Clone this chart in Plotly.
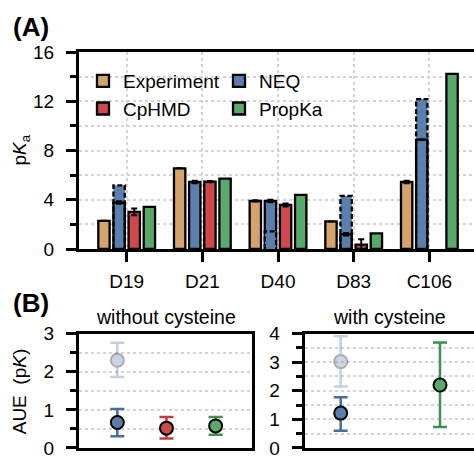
import plotly.graph_objects as go

# ---------------- data ----------------
residues = ["D19", "D21", "D40", "D83", "C106"]
exp_pka = [2.29, 6.55, 3.90, 2.24, 5.44]
exp_err = [0.0, 0.0, 0.05, 0.0, 0.10]
neq_pka = [3.77, 5.44, 3.90, 1.19, 8.89]
neq_err = [0.10, 0.10, 0.10, 0.10, 0.0]
neq_alt_pka = [5.17, None, 1.43, 4.31, 12.18]
cphmd_pka = [3.02, 5.47, 3.58, 0.35, None]
cphmd_err = [0.27, 0.05, 0.12, 0.45, 0.0]
propka_pka = [3.42, 5.71, 4.39, 1.27, 14.22]

methods_b = ["NEQ", "CpHMD", "PropKa"]
# without cysteine
wo_val = [0.67, 0.52, 0.58]
wo_lo = [0.31, 0.25, 0.35]
wo_hi = [1.02, 0.81, 0.81]
wo_neq_alt = 2.30
wo_neq_alt_lo = 1.86
wo_neq_alt_hi = 2.76
# with cysteine
w_methods = ["NEQ", "PropKa"]
w_val = [1.22, 2.20]
w_lo = [0.60, 0.73]
w_hi = [1.77, 3.69]
w_neq_alt = 3.02
w_neq_alt_lo = 2.15
w_neq_alt_hi = 3.91

y_ticks_a = [0, 4, 8, 12, 16]

# ---------------- style ----------------
FONT = "Liberation Sans, Arial, Helvetica, sans-serif"
FS = 19
C_EXP = "#D4A46C"
C_NEQ = "#5A7FAD"
C_CPH = "#D0474C"
C_PKA = "#58A96B"
E_NEQ = "#4A6C9A"
E_CPH = "#C83A3F"
E_PKA = "#3E8E50"
GRID = "#D4D4D4"

W, H = 474, 459
ML, MR, MT, MB = 79, 0, 52, 9
PW, PH = W - ML - MR, H - MT - MB


def px_x(p):
    return (p - ML) / PW


def px_y(p):
    return (H - MB - p) / PH


BAR_W = 0.15
BAR_LW = 2.3
OFFS = {"Experiment": -0.3, "NEQ": -0.1, "CpHMD": 0.1, "PropKa": 0.3}
idx = list(range(len(residues)))

fig = go.Figure()


def bar_trace(name, vals, errs, color, offset, legend, showlegend=True):
    xs = [i + offset for i in idx]
    kw = {}
    if errs is not None:
        kw["error_y"] = dict(type="data", array=errs, visible=True,
                             color="black", thickness=2, width=3)
    return go.Bar(x=xs, y=vals, width=BAR_W, name=name,
                  marker=dict(color=color, line=dict(color="black", width=BAR_LW)),
                  legend=legend, legendgroup=name, showlegend=showlegend,
                  xaxis="x", yaxis="y", **kw)


# NEQ alternative bars: fill behind when taller, in front when shorter
alt_back = [a if (a is not None and a > s) else None for a, s in zip(neq_alt_pka, neq_pka)]
alt_front = [a if (a is not None and a < s) else None for a, s in zip(neq_alt_pka, neq_pka)]

fig.add_trace(go.Bar(x=[i + OFFS["NEQ"] for i in idx], y=alt_back, width=BAR_W,
                     marker=dict(color=C_NEQ, line=dict(width=0)), showlegend=False,
                     hoverinfo="skip", xaxis="x", yaxis="y"))
fig.add_trace(bar_trace("Experiment", exp_pka, exp_err, C_EXP, OFFS["Experiment"], "legend"))
fig.add_trace(bar_trace("NEQ", neq_pka, neq_err, C_NEQ, OFFS["NEQ"], "legend2"))
fig.add_trace(bar_trace("CpHMD", cphmd_pka, cphmd_err, C_CPH, OFFS["CpHMD"], "legend"))
fig.add_trace(bar_trace("PropKa", propka_pka, None, C_PKA, OFFS["PropKa"], "legend2"))
fig.add_trace(go.Bar(x=[i + OFFS["NEQ"] for i in idx], y=alt_front, width=BAR_W,
                     marker=dict(color=C_NEQ, line=dict(width=0)), showlegend=False,
                     hoverinfo="skip", xaxis="x", yaxis="y"))

# dashed outlines of NEQ alternative bars
dx, dy = [], []
for i, a in zip(idx, neq_alt_pka):
    if a is None:
        continue
    x0 = i + OFFS["NEQ"] - BAR_W / 2
    x1 = i + OFFS["NEQ"] + BAR_W / 2
    dx += [x0, x0, x1, x1, None]
    dy += [0, a, a, 0, None]
fig.add_trace(go.Scatter(x=dx, y=dy, mode="lines", showlegend=False, hoverinfo="skip",
                         line=dict(color="black", width=BAR_LW, dash="5px,2.5px"),
                         xaxis="x", yaxis="y"))


# ---------------- panel B ----------------
def pos(m):
    return {"NEQ": 1, "CpHMD": 2, "PropKa": 3}[m]


COLS = {"NEQ": (C_NEQ, E_NEQ), "CpHMD": (C_CPH, E_CPH), "PropKa": (C_PKA, E_PKA)}


def point(xa, ya, m, v, lo, hi, opacity=1.0):
    fc, ec = COLS[m]
    return go.Scatter(x=[pos(m)], y=[v], mode="markers", showlegend=False,
                      opacity=opacity,
                      marker=dict(size=13, color=fc, line=dict(color="black", width=2)),
                      error_y=dict(type="data", symmetric=False, array=[hi - v],
                                   arrayminus=[v - lo], color=ec, thickness=2.5, width=7),
                      xaxis=xa, yaxis=ya)


fig.add_trace(point("x2", "y2", "NEQ", wo_neq_alt, wo_neq_alt_lo, wo_neq_alt_hi, 0.32))
for m, v, lo, hi in zip(methods_b, wo_val, wo_lo, wo_hi):
    fig.add_trace(point("x2", "y2", m, v, lo, hi))
fig.add_trace(point("x3", "y3", "NEQ", w_neq_alt, w_neq_alt_lo, w_neq_alt_hi, 0.32))
for m, v, lo, hi in zip(w_methods, w_val, w_lo, w_hi):
    fig.add_trace(point("x3", "y3", m, v, lo, hi))

# ---------------- axes ----------------
axis_common = dict(showline=True, linecolor="black", linewidth=3, zeroline=False,
                   tickfont=dict(family=FONT, size=FS, color="black"),
                   ticks="outside", tickcolor="black", tickwidth=3, ticklen=10)
grid_common = dict(showgrid=True, gridcolor=GRID, griddash="dot", gridwidth=1.5)

yA_top = px_y(52)
yA_bot = px_y(250)
yB_top = px_y(335)

fig.update_layout(
    xaxis=dict(domain=[0, 1], anchor="y", range=[-0.63, 4.59],
               tickmode="array", tickvals=idx, ticktext=residues,
               mirror=True, ticklabelstandoff=3, **grid_common, **axis_common),
    yaxis=dict(domain=[yA_bot, yA_top], anchor="x", range=[0, 16],
               tickmode="array", tickvals=y_ticks_a, **grid_common,
               minor=dict(dtick=2, ticklen=6, tickwidth=3, tickcolor="black", ticks="outside",
                          **grid_common),
               ticklabelstandoff=8, **axis_common),
    xaxis2=dict(domain=[0, px_x(252)], anchor="y2", range=[0.22, 3.74],
                showline=True, linecolor="black", linewidth=3, mirror=True,
                showticklabels=False, ticks="", showgrid=False, zeroline=False),
    yaxis2=dict(domain=[0, yB_top], anchor="x2", range=[0, 3], dtick=1, mirror=True,
                **grid_common,
                minor=dict(dtick=0.5, ticklen=6, tickwidth=3, tickcolor="black", ticks="outside",
                           **grid_common),
                ticklabelstandoff=8, **axis_common),
    xaxis3=dict(domain=[px_x(304.7), 1], anchor="y3", range=[0.275, 3.685],
                showline=True, linecolor="black", linewidth=3, mirror=True,
                showticklabels=False, ticks="", showgrid=False, zeroline=False),
    yaxis3=dict(domain=[0, yB_top], anchor="x3", range=[0, 4], dtick=1,
                **grid_common,
                minor=dict(dtick=0.5, ticklen=6, tickwidth=3, tickcolor="black", ticks="outside",
                           **grid_common),
                ticklabelstandoff=8, **axis_common),
)

leg_common = dict(orientation="v", bgcolor="rgba(0,0,0,0)", borderwidth=0,
                  font=dict(family=FONT, size=FS, color="black"),
                  tracegroupgap=0, xanchor="left", yanchor="top", itemclick=False)
fig.update_layout(
    legend=dict(x=px_x(83), y=px_y(62), **leg_common),
    legend2=dict(x=px_x(219), y=px_y(62), **leg_common),
)

ann_font = dict(family=FONT, size=FS, color="black")
fig.update_layout(annotations=[
    dict(text="<b>(A)</b>", xref="paper", yref="paper", x=px_x(11), y=px_y(27),
         xanchor="left", yanchor="middle", showarrow=False,
         font=dict(family=FONT, size=26, color="black")),
    dict(text="<b>(B)</b>", xref="paper", yref="paper", x=px_x(11), y=px_y(304),
         xanchor="left", yanchor="middle", showarrow=False,
         font=dict(family=FONT, size=26, color="black")),
    dict(text="p<i>K</i><sub>a</sub>", xref="paper", yref="paper", x=px_x(21), y=px_y(151),
         xanchor="center", yanchor="middle", textangle=-90, showarrow=False, font=ann_font),
    dict(text="AUE  (p<i>K</i>)", xref="paper", yref="paper", x=px_x(19), y=px_y(393),
         xanchor="center", yanchor="middle", textangle=-90, showarrow=False, font=ann_font),
    dict(text="without cysteine", xref="x2", yref="paper", x=1.98, y=px_y(318),
         xanchor="center", yanchor="middle", showarrow=False,
         font=dict(family=FONT, size=19.5, color="black")),
    dict(text="with cysteine", xref="x3", yref="paper", x=1.98, y=px_y(318),
         xanchor="center", yanchor="middle", showarrow=False,
         font=dict(family=FONT, size=19.5, color="black")),
])

fig.update_layout(width=W, height=H, margin=dict(l=ML, r=MR, t=MT, b=MB),
                  barmode="overlay", plot_bgcolor="white", paper_bgcolor="white",
                  font=dict(family=FONT, size=FS, color="black"))

fig.write_html("out.html", config={"displayModeBar": False})
